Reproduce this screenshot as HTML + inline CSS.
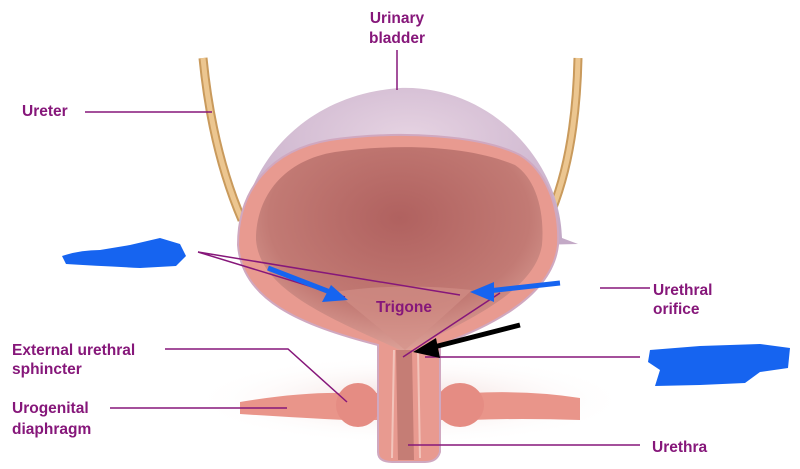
<!DOCTYPE html>
<html><head><meta charset="utf-8"><style>
html,body{margin:0;padding:0;background:#fff;width:800px;height:469px;overflow:hidden}
svg text{font-family:"Liberation Sans",sans-serif;font-weight:bold;font-size:15.5px;fill:#86177a}
</style></head><body>
<svg width="800" height="469" viewBox="0 0 800 469" xmlns="http://www.w3.org/2000/svg">
<defs>
<radialGradient id="dome" cx="0.5" cy="0.3" r="0.7"><stop offset="0" stop-color="#e6d3e2"/><stop offset="1" stop-color="#c3a9c6"/></radialGradient>
<radialGradient id="cav" cx="0.5" cy="0.35" r="0.65"><stop offset="0" stop-color="#b0615f"/><stop offset="0.7" stop-color="#c27a74"/><stop offset="1" stop-color="#dca097"/></radialGradient>
<radialGradient id="shadow" cx="0.5" cy="0.5" r="0.5"><stop offset="0" stop-color="#f1d8d6"/><stop offset="1" stop-color="#fff" stop-opacity="0"/></radialGradient>
</defs>
<ellipse cx="410" cy="400" rx="220" ry="45" fill="url(#shadow)"/>
<!-- ureters -->
<path d="M203 58 Q212 150 242 220" stroke="#c99a5c" stroke-width="9" fill="none"/>
<path d="M203 58 Q212 150 242 220" stroke="#ecc690" stroke-width="5" fill="none"/>
<path d="M578 58 Q576 150 552 210" stroke="#c99a5c" stroke-width="9" fill="none"/>
<path d="M578 58 Q576 150 552 210" stroke="#ecc690" stroke-width="5" fill="none"/>
<!-- diaphragm -->
<path d="M240 402 Q300 392 345 393 L470 393 Q530 390 580 398 L580 420 Q520 418 470 420 L345 420 Q300 418 240 414 Z" fill="#e9958a"/>
<ellipse cx="358" cy="405" rx="22" ry="22" fill="#e58c83"/>
<ellipse cx="460" cy="405" rx="24" ry="22" fill="#e58c83"/>
<!-- dome -->
<path d="M240 248 C240 170 300 95 400 88 C490 85 560 160 562 238 L578 244 L240 252 Z" fill="url(#dome)"/>
<!-- wall -->
<path d="M238 245 C238 190 270 150 330 140 C400 130 480 135 520 155 C545 170 560 205 558 245 C552 300 480 330 440 345 L440 452 Q437 462 425 462 L392 462 Q378 462 378 452 L378 345 C300 325 242 300 238 245 Z" fill="#e89a90" stroke="#d0a8c0" stroke-width="2"/>
<!-- cavity -->
<path d="M256 240 C256 195 285 160 335 152 C400 143 470 146 515 165 C535 178 545 210 542 245 C535 290 470 320 412 348 L408 350 L400 350 C330 318 260 290 256 240 Z" fill="url(#cav)"/>
<path d="M396 350 L398 460 L414 460 L412 350 Z" fill="#c57d75"/>
<path d="M394 350 L392 458 M418 350 L420 458" stroke="#f2c4bb" stroke-width="2"/>
<path d="M335 292 Q400 282 472 290 Q440 320 405 350 Q370 320 335 292 Z" fill="#d49188" opacity="0.6"/>
<!-- leader lines -->
<g stroke="#86177a" stroke-width="1.5" fill="none">
<path d="M397 50 L397 90"/>
<path d="M85 112 L212 112"/>
<path d="M198 252 L345 297 M198 252 L460 295"/>
<path d="M600 288 L650 288 M500 293 L403 357"/>
<path d="M425 357 L640 357"/>
<path d="M165 349 L288 349 L347 402"/>
<path d="M110 408 L287 408"/>
<path d="M408 445 L640 445"/>
</g>
<!-- arrows -->
<g stroke="#1664f0" stroke-width="5" fill="#1664f0">
<path d="M268 268 L330 292"/>
<path d="M560 283 L488 291"/>
</g>
<polygon points="348,300 322,302 331,285" fill="#1664f0"/>
<polygon points="470,292 494,282 494,302" fill="#1664f0"/>
<path d="M520 325 L430 348" stroke="#000" stroke-width="5"/>
<polygon points="413,352 436,338 440,358" fill="#000"/>
<!-- scribbles -->
<path d="M62 256 Q80 250 100 250 L130 245 L160 238 L180 244 L186 256 L176 266 L140 268 Q100 266 66 264 Z" fill="#1664f0"/>
<path d="M650 350 L700 346 L760 344 L790 348 L788 368 L760 372 L745 383 L700 385 L655 386 L660 370 L648 362 Z" fill="#1664f0"/>
<!-- labels -->
<text x="397" y="23" text-anchor="middle">Urinary</text>
<text x="397" y="43" text-anchor="middle">bladder</text>
<text x="22" y="116">Ureter</text>
<text x="376" y="312">Trigone</text>
<text x="653" y="295">Urethral</text>
<text x="653" y="314">orifice</text>
<text x="12" y="355">External urethral</text>
<text x="12" y="374">sphincter</text>
<text x="12" y="413">Urogenital</text>
<text x="12" y="434">diaphragm</text>
<text x="652" y="452">Urethra</text>
</svg>
</body></html>
